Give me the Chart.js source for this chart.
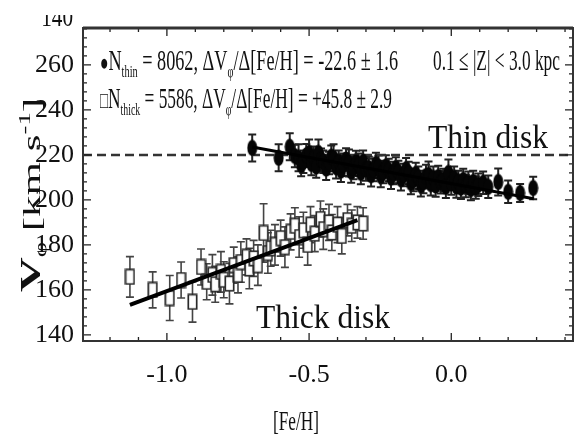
<!DOCTYPE html>
<html>
<head>
<meta charset="utf-8">
<script src="https://cdn.jsdelivr.net/npm/chart.js@4.4.0/dist/chart.umd.min.js"></script>
<style>
  html, body { margin: 0; padding: 0; background: #fff; }
  canvas { filter: blur(0.4px); }
</style>
</head>
<body>
<canvas id="myChart" width="584" height="435"></canvas>
<script>
// DATA

// thin disk bins: [Fe/H], V_phi, error
const thinFe = [-0.700, -0.607, -0.568, -0.550, -0.537, -0.528, -0.520, -0.510, -0.500, -0.492,
  -0.484, -0.475, -0.467, -0.458, -0.450, -0.440, -0.430, -0.422, -0.414, -0.405,
  -0.396, -0.388, -0.380, -0.370, -0.360, -0.352, -0.344, -0.335, -0.326, -0.318,
  -0.310, -0.300, -0.290, -0.282, -0.274, -0.265, -0.256, -0.248, -0.240, -0.230,
  -0.220, -0.212, -0.204, -0.195, -0.186, -0.177, -0.168, -0.159, -0.150, -0.142,
  -0.133, -0.125, -0.116, -0.107, -0.098, -0.089, -0.080, -0.072, -0.063, -0.055,
  -0.046, -0.037, -0.028, -0.019, -0.010, 0.000, 0.010, 0.018, 0.025, 0.034,
  0.042, 0.051, 0.060, 0.069, 0.077, 0.086, 0.095, 0.112, 0.130, 0.165,
  0.200, 0.242, 0.288];
const thinV = [223.1, 218.7, 223.6, 219.5, 218.7, 215.5, 217.0, 219.8, 220.9, 216.0,
  218.7, 214.8, 220.9, 217.8, 217.0, 213.9, 216.4, 219.2, 218.7, 214.5,
  217.0, 213.0, 215.6, 218.0, 216.4, 212.6, 214.2, 216.9, 215.6, 212.0,
  217.0, 213.5, 214.2, 211.0, 213.3, 216.0, 214.7, 210.6, 212.4, 214.8,
  213.3, 209.9, 212.0, 214.0, 212.4, 209.2, 211.1, 213.6, 212.0, 207.5,
  208.9, 211.5, 209.8, 206.5, 208.0, 210.6, 211.1, 207.0, 209.8, 206.4,
  210.2, 207.8, 208.9, 205.8, 212.0, 207.3, 209.8, 206.0, 208.0, 205.4,
  208.9, 206.2, 207.6, 204.8, 208.0, 205.5, 206.7, 207.6, 205.8, 208.0,
  203.6, 203.1, 205.3];
const thinErr = [6, 6, 6, 5, 6, 5, 5, 5, 6, 5,
  5, 5, 6, 5, 5, 5, 5, 5, 6, 5,
  5, 5, 5, 5, 6, 5, 5, 5, 5, 5,
  5, 5, 5, 5, 5, 5, 5, 5, 5, 5,
  5, 5, 5, 5, 5, 5, 5, 5, 5, 5,
  5, 5, 5, 5, 5, 5, 6, 5, 5, 5,
  5, 5, 5, 5, 6, 5, 5, 5, 5, 5,
  5, 5, 5, 5, 5, 5, 5, 5, 5, 6,
  5, 4, 5];

// thick disk bins
const thickFe = [-1.13, -1.05, -0.99, -0.95, -0.91, -0.88, -0.86, -0.84, -0.83, -0.81,
  -0.80, -0.78, -0.765, -0.75, -0.74, -0.72, -0.71, -0.695, -0.68, -0.66,
  -0.645, -0.635, -0.62, -0.60, -0.585, -0.565, -0.55, -0.535, -0.52, -0.505,
  -0.495, -0.48, -0.46, -0.45, -0.43, -0.42, -0.40, -0.385, -0.365, -0.35,
  -0.33, -0.31];
const thickV = [165.8, 160.0, 156.4, 164.4, 154.7, 170.2, 163.6, 166.7, 162.5, 168.0,
  164.5, 162.8, 171.0, 166.7, 172.4, 174.7, 169.5, 174.0, 171.0, 185.3,
  176.4, 178.5, 180.0, 183.0, 179.0, 185.8, 188.5, 183.5, 186.5, 180.0,
  189.0, 185.0, 191.5, 187.0, 190.0, 185.5, 189.0, 184.0, 191.0, 188.5,
  190.0, 189.5];
const thickErr = [9, 8, 10, 8, 9, 8, 8, 9, 8, 9,
  8, 9, 8, 8, 9, 8, 9, 8, 9, 13,
  9, 8, 9, 8, 9, 8, 8, 9, 8, 9,
  8, 8, 8, 9, 8, 8, 8, 8, 7, 7,
  7, 7];

// linear fits
const thinFitFe = [-0.70, 0.29];
const thinFitV = [223.5, 200.5];
const thickFitFe = [-1.13, -0.33];
const thickFitV = [153.3, 191.0];

// 220 km/s reference line
const refFe = [-1.295, 0.428];
const refV = [220, 220];

// axes
const xMin = -1.295, xMax = 0.428;
const yMin = 137.3, yMax = 276.4;
const xTicks = [-1.0, -0.5, 0.0];
const yTicks = [140, 160, 180, 200, 220, 240, 260];

const SERIF = '"Liberation Serif", "Times New Roman", serif';

function pairs(xs, ys) {
  return xs.map((v, i) => ({x: v, y: ys[i]}));
}

// marker images
const dotImg = document.createElement('canvas');
dotImg.width = 11; dotImg.height = 17;
(function () {
  const c = dotImg.getContext('2d');
  c.fillStyle = '#050505';
  c.beginPath();
  c.ellipse(5.5, 8.5, 5, 8, 0, 0, Math.PI * 2);
  c.fill();
})();

const boxImg = document.createElement('canvas');
boxImg.width = 11; boxImg.height = 17;
(function () {
  const c = boxImg.getContext('2d');
  c.fillStyle = '#fff';
  c.fillRect(1, 1, 9, 15);
  c.strokeStyle = '#2a2a2a';
  c.lineWidth = 1.7;
  c.strokeRect(1.3, 1.3, 8.4, 14.4);
})();

// draw text pieces squeezed to a given width
function drawRuns(ctx, runs, x, y, width, size) {
  ctx.save();
  let total = 0;
  const ws = runs.map(r => {
    ctx.font = (r[3] || '') + ' ' + Math.round(size * r[1]) + 'px ' + SERIF;
    const w = ctx.measureText(r[0]).width;
    total += w;
    return w;
  });
  ctx.translate(x, y);
  ctx.scale(width / total, 1);
  let cx = 0;
  runs.forEach((r, i) => {
    ctx.font = (r[3] || '') + ' ' + Math.round(size * r[1]) + 'px ' + SERIF;
    ctx.fillText(r[0], cx, r[2]);
    cx += ws[i];
  });
  ctx.restore();
}

// error bars under the markers
const errorBars = {
  id: 'errorBars',
  beforeDatasetsDraw(chart) {
    const ctx = chart.ctx;
    const yS = chart.scales.y;
    chart.data.datasets.forEach((ds, i) => {
      if (!ds.errs) return;
      const meta = chart.getDatasetMeta(i);
      ctx.save();
      ctx.strokeStyle = ds.errColor;
      ctx.lineWidth = ds.errWidth;
      meta.data.forEach((pt, j) => {
        const v = ds.data[j].y;
        const t = yS.getPixelForValue(v + ds.errs[j]);
        const b = yS.getPixelForValue(v - ds.errs[j]);
        ctx.beginPath();
        ctx.moveTo(pt.x, t); ctx.lineTo(pt.x, b);
        ctx.moveTo(pt.x - 4, t); ctx.lineTo(pt.x + 4, t);
        ctx.moveTo(pt.x - 4, b); ctx.lineTo(pt.x + 4, b);
        ctx.stroke();
      });
      ctx.restore();
    });
  }
};

// frame, inward ticks and annotations
const decor = {
  id: 'decor',
  afterDraw(chart) {
    const {ctx, chartArea: a, scales: {x, y}} = chart;
    ctx.save();
    ctx.strokeStyle = '#222';
    ctx.lineWidth = 1.3;
    ctx.beginPath();
    for (let i = -13; i <= 4; i++) {
      const px = x.getPixelForValue(i / 10);
      if (px < a.left + 1 || px > a.right - 1) continue;
      const len = (i % 5 === 0) ? 8 : 4;
      ctx.moveTo(px, a.bottom); ctx.lineTo(px, a.bottom - len);
      ctx.moveTo(px, a.top); ctx.lineTo(px, a.top + len);
    }
    for (let v = 140; v < yMax; v += 4) {
      const py = y.getPixelForValue(v);
      const len = ((v - 140) % 20 === 0) ? 8 : 4;
      ctx.moveTo(a.left, py); ctx.lineTo(a.left + len, py);
      ctx.moveTo(a.right, py); ctx.lineTo(a.right - len, py);
    }
    ctx.stroke();

    ctx.strokeStyle = '#333';
    ctx.lineWidth = 2;
    ctx.strokeRect(a.left, a.top, a.right - a.left, a.bottom - a.top);
    ctx.lineWidth = 3;
    ctx.beginPath();
    ctx.moveTo(a.left, a.top); ctx.lineTo(a.right, a.top);
    ctx.stroke();

    ctx.fillStyle = '#111';
    ctx.textBaseline = 'alphabetic';

    // legend lines
    drawRuns(ctx, [['\u25CF', 0.75, 0], ['N', 1, 0], ['thin', 0.55, 7],
      [' = 8062, \u0394V', 1, 0], ['\u03C6', 0.55, 7], ['/\u0394[Fe/H] = -22.6 \u00B1 1.6', 1, 0]],
      100, 70, 298, 30);
    drawRuns(ctx, [['0.1 \u2264 |Z| < 3.0 kpc', 1, 0]], 433, 70, 127, 30);
    drawRuns(ctx, [['\u25A1', 0.75, 0], ['N', 1, 0], ['thick', 0.55, 7],
      [' = 5586, \u0394V', 1, 0], ['\u03C6', 0.55, 7], ['/\u0394[Fe/H] = +45.8 \u00B1 2.9', 1, 0]],
      100, 108, 292, 30);

    drawRuns(ctx, [['Thin disk', 1, 0]], 428, 148, 120, 34);
    drawRuns(ctx, [['Thick disk', 1, 0]], 256, 328, 134, 34);

    // x title
    drawRuns(ctx, [['[Fe/H]', 1, 0]], 273, 430, 46, 28);

    // y title
    ctx.save();
    ctx.translate(40, 292);
    ctx.rotate(-Math.PI / 2);
    drawRuns(ctx, [['V', 1.1, 0, 'bold'], ['\u03C6', 0.6, 6], [' [km s', 1, 0], ['-1', 0.6, -10], [']', 1, 0]],
      0, 0, 194, 26);
    ctx.restore();

    // clipped label at the top of the y axis
    ctx.beginPath();
    ctx.rect(0, 15, 80, 20);
    ctx.clip();
    ctx.textAlign = 'right';
    ctx.font = '25px ' + SERIF;
    ctx.save();
    ctx.translate(73, 26);
    ctx.scale(0.85, 1.15);
    ctx.fillText('140', 0, 0);
    ctx.restore();

    ctx.restore();
  }
};

const data = {
  datasets: [
    {
      label: 'thick fit',
      data: pairs(thickFitFe, thickFitV),
      showLine: true,
      borderColor: '#000',
      borderWidth: 4,
      pointRadius: 0
    },
    {
      label: 'thin fit',
      data: pairs(thinFitFe, thinFitV),
      showLine: true,
      borderColor: '#000',
      borderWidth: 3,
      pointRadius: 0
    },
    {
      label: 'thin',
      data: pairs(thinFe, thinV),
      errs: thinErr,
      errColor: '#222',
      errWidth: 2,
      pointStyle: dotImg,
      pointRadius: 4
    },
    {
      label: 'thick',
      data: pairs(thickFe, thickV),
      errs: thickErr,
      errColor: '#444',
      errWidth: 1.6,
      pointStyle: boxImg,
      pointRadius: 4
    },
    {
      label: '220',
      data: pairs(refFe, refV),
      showLine: true,
      borderColor: '#333',
      borderWidth: 2.5,
      borderDash: [9, 5],
      pointRadius: 0
    }
  ]
};

const config = {
  type: 'scatter',
  data,
  options: {
    responsive: false,
    animation: false,
    layout: { padding: { left: 0, right: 11, top: 28, bottom: 0 } },
    plugins: {
      legend: { display: false },
      tooltip: { enabled: false }
    },
    scales: {
      x: {
        type: 'linear',
        min: xMin,
        max: xMax,
        afterBuildTicks: s => { s.ticks = xTicks.map(v => ({value: v})); },
        afterFit: s => { s.height = 94; },
        grid: { display: false, drawTicks: false },
        border: { display: false },
        ticks: {
          padding: 19,
          color: '#111',
          font: { family: SERIF, size: 26 },
          maxRotation: 0,
          callback: v => Number(v).toFixed(1)
        }
      },
      y: {
        type: 'linear',
        min: yMin,
        max: yMax,
        afterBuildTicks: s => { s.ticks = yTicks.map(v => ({value: v})); },
        afterFit: s => { s.width = 83; },
        grid: { display: false, drawTicks: false },
        border: { display: false },
        ticks: {
          padding: 9,
          color: '#111',
          font: { family: SERIF, size: 26 },
          callback: v => String(v)
        }
      }
    }
  },
  plugins: [errorBars, decor]
};

var myChart = new Chart(document.getElementById('myChart'), config);
</script>
</body>
</html>
